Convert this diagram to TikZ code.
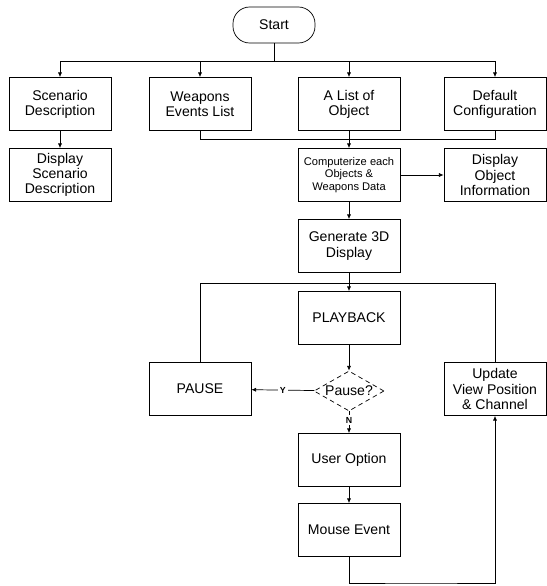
\documentclass[tikz,border=0pt]{standalone}
\usepackage{fontspec}
\setmainfont{Liberation Sans}
\usetikzlibrary{shapes.geometric,arrows.meta}
\begin{document}
\begin{tikzpicture}[x=0.03cm,y=-0.03cm,
    every node/.style={inner sep=1pt},
    box/.style={draw,rectangle,minimum width=3.06cm,minimum height=1.59cm,align=center,font=\fontsize{12}{13}\selectfont},
    smallbox/.style={box,font=\fontsize{9.5}{10.5}\selectfont},
    pill/.style={draw,rectangle,rounded corners=0.5cm,minimum width=2.46cm,minimum height=1.08cm,font=\fontsize{12}{13}\selectfont},
    ask/.style={draw,diamond,aspect=2.2,dashed,dash pattern=on 4pt off 3pt,inner sep=0pt,minimum width=2.1cm,minimum height=1.2cm,font=\fontsize{12}{13}\selectfont},
    tag/.style={font=\bfseries\fontsize{7.5}{8}\selectfont,fill=white,inner sep=1.5pt},
    arr/.style={-{Latex[length=4pt,width=3.5pt]}},
    line width=0.6pt]
    \useasboundingbox (0,0) rectangle (546,586);
    \node[pill] (start) at (274,25) {Start};
    \node[box] (scen) at (60,104) {Scenario\\Description};
    \node[box] (weap) at (200,104) {Weapons\\Events List};
    \node[box] (alist) at (349,104) {A List of\\Object};
    \node[box] (defc) at (495,104) {Default\\Configuration};
    \node[box] (dscen) at (60,175) {Display\\Scenario\\Description};
    \node[smallbox] (comp) at (349,175) {Computerize each\\Objects \&\\Weapons Data};
    \node[box] (dobj) at (495,175) {Display\\Object\\Information};
    \node[box] (gen) at (349,246) {Generate 3D\\Display};
    \node[box] (play) at (349,318) {PLAYBACK};
    \node[ask] (pq) at (349,391) {Pause?};
    \node[box] (pause) at (200,389) {PAUSE};
    \node[box] (upd) at (495,389) {Update\\View Position\\\& Channel};
    \node[box] (uopt) at (349,460) {User Option};
    \node[box] (mouse) at (349,530) {Mouse Event};
    \coordinate (top) at (274,61);
    \coordinate (mrg) at (349,139);
    \coordinate (ltop) at (349,283);
    \coordinate (lbot) at (420,583);
    \draw (start) -- (top);
    \draw[arr] (top) -| (scen);
    \draw[arr] (top) -| (weap);
    \draw[arr] (top) -| (alist);
    \draw[arr] (top) -| (defc);
    \draw[arr] (scen) -- (dscen);
    \draw (weap) |- (mrg);
    \draw (defc) |- (mrg);
    \draw[arr] (alist) -- (comp);
    \draw[arr] (comp) -- (dobj);
    \draw[arr] (comp) -- (gen);
    \draw[arr] (gen) -- (play);
    \draw (ltop) -| (pause);
    \draw (ltop) -| (upd);
    \draw[arr] (play) -- (pq);
    \draw[arr] (pq) -- node[tag] {Y} (pause);
    \draw[arr] (pq) -- node[tag,pos=0.4] {N} (uopt);
    \draw[arr] (uopt) -- (mouse);
    \draw[arr] (mouse) |- (lbot) -| (upd);
\end{tikzpicture}
\end{document}
